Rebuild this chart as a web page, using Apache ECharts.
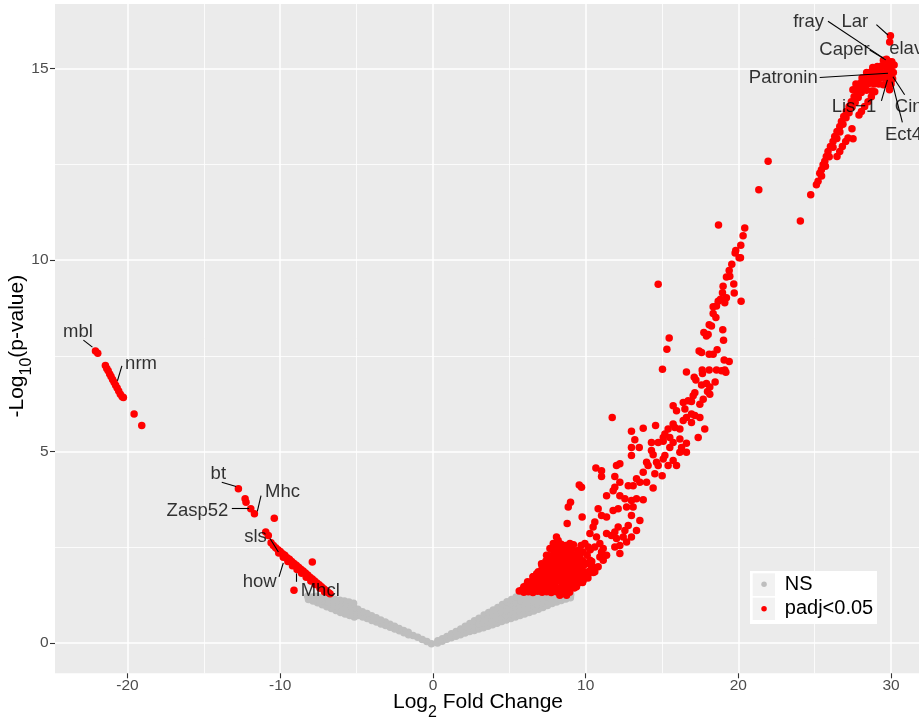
<!DOCTYPE html>
<html><head><meta charset="utf-8">
<script src="https://cdn.jsdelivr.net/npm/echarts@6/dist/echarts.min.js"></script>
<style>html,body{margin:0;padding:0;background:#fff}#c{width:919px;height:719px}</style>
</head><body><div id="c"></div><script>
// ---- not significant (grey) points, left arm of the V ----
const nsLeft = [
[-0.1,-0.02],[-0.4,0.04],[-0.7,0.09],[-1.0,0.15],[-1.3,0.2],
[-1.6,0.22],[-1.62,0.28],[-1.9,0.27],[-1.92,0.33],[-2.2,0.32],[-2.22,0.38],
[-2.5,0.37],[-2.52,0.44],[-2.8,0.41],[-2.82,0.49],[-3.1,0.46],[-3.12,0.55],
[-3.4,0.5],[-3.42,0.6],[-3.7,0.55],[-3.72,0.66],[-4.0,0.59],[-4.02,0.71],
[-4.3,0.64],[-4.32,0.77],[-4.6,0.68],[-4.62,0.82],[-4.9,0.72],[-4.92,0.88],
[-5.15,0.68],[-5.15,0.8],[-5.17,0.92],[-5.2,1.04],
[-5.45,0.72],[-5.45,0.84],[-5.47,0.96],[-5.5,1.07],
[-5.75,0.76],[-5.75,0.88],[-5.77,1.0],[-5.8,1.1],
[-6.05,0.8],[-6.05,0.92],[-6.07,1.04],[-6.1,1.12],
[-6.35,0.85],[-6.35,0.97],[-6.37,1.08],[-6.4,1.14],
[-6.65,0.9],[-6.65,1.02],[-6.7,1.14],
[-6.95,0.95],[-6.95,1.07],[-7.0,1.17],
[-7.25,1.0],[-7.25,1.1],[-7.3,1.19],
[-7.55,1.05],[-7.55,1.15],[-7.6,1.22],
[-7.85,1.1],[-7.9,1.2],[-8.15,1.14],[-8.2,1.22]
];
// ---- not significant (grey) points, right arm of the V ----
const nsRight = [
[0.3,0.0],[0.32,0.06],[0.6,0.05],[0.62,0.11],[0.9,0.1],[0.92,0.17],
[1.2,0.14],[1.22,0.24],[1.5,0.18],[1.52,0.3],[1.8,0.22],[1.82,0.37],
[2.1,0.26],[2.1,0.36],[2.12,0.44],[2.4,0.3],[2.4,0.41],[2.42,0.51],
[2.7,0.33],[2.7,0.45],[2.72,0.58],[3.0,0.37],[3.0,0.5],[3.02,0.65],
[3.3,0.4],[3.3,0.52],[3.32,0.63],[3.35,0.73],
[3.6,0.44],[3.6,0.56],[3.62,0.68],[3.65,0.8],
[3.9,0.48],[3.9,0.6],[3.92,0.73],[3.95,0.86],
[4.2,0.52],[4.2,0.64],[4.22,0.77],[4.25,0.93],
[4.5,0.56],[4.5,0.68],[4.52,0.81],[4.55,0.94],[4.55,1.01],
[4.8,0.6],[4.8,0.72],[4.82,0.85],[4.85,0.98],[4.85,1.08],
[5.1,0.64],[5.1,0.76],[5.12,0.89],[5.15,1.02],[5.15,1.14],
[5.4,0.68],[5.4,0.8],[5.42,0.93],[5.45,1.06],[5.45,1.2],
[5.7,0.72],[5.7,0.84],[5.72,0.97],[5.75,1.1],[5.75,1.22],
[6.0,0.76],[6.0,0.88],[6.02,1.01],[6.05,1.14],[6.05,1.24],
[6.3,0.8],[6.3,0.92],[6.32,1.05],[6.35,1.17],
[6.6,0.84],[6.6,0.96],[6.62,1.08],[6.65,1.2],
[6.9,0.88],[6.9,1.0],[6.92,1.12],[6.95,1.22],
[7.2,0.93],[7.2,1.05],[7.22,1.16],[7.25,1.25],
[7.5,0.98],[7.5,1.09],[7.52,1.2],[7.8,1.03],[7.8,1.13],[7.82,1.23],
[8.1,1.07],[8.1,1.17],[8.12,1.26],[8.4,1.11],[8.4,1.2],[8.42,1.28],
[8.7,1.15],[8.72,1.24],[9.0,1.18],[9.02,1.26]
];
// ---- significant (red) points, negative fold change ----
const sigLeft = [
[-22.1,7.63],[-21.95,7.57],
[-21.45,7.25],[-21.36,7.17],[-21.27,7.11],[-21.17,7.03],[-21.08,6.96],[-20.98,6.88],[-20.88,6.81],
[-20.78,6.73],[-20.68,6.66],[-20.58,6.58],[-20.47,6.5],[-20.35,6.43],[-20.27,6.41],
[-19.57,5.98],[-19.07,5.68],
[-12.74,4.03],[-12.3,3.77],[-12.24,3.68],[-11.93,3.51],[-11.69,3.38],[-10.39,3.26],[-10.95,2.9],[-10.78,2.81],
[-10.6,2.62],[-10.45,2.55],[-10.3,2.49],[-10.15,2.44],[-10.0,2.39],[-9.85,2.33],[-9.7,2.29],[-9.55,2.23],
[-9.4,2.19],[-9.25,2.13],[-9.1,2.08],[-8.95,2.03],[-8.8,1.98],[-8.65,1.93],[-8.5,1.88],[-8.35,1.83],
[-8.2,1.78],[-8.05,1.72],[-7.9,1.67],[-7.75,1.62],[-7.6,1.57],[-7.45,1.52],[-7.3,1.47],[-7.15,1.42],
[-7.0,1.37],[-6.85,1.32],[-6.74,1.29],
[-10.1,2.35],[-9.8,2.24],[-9.5,2.13],[-9.2,2.02],[-8.9,1.92],[-8.6,1.82],[-8.3,1.72],[-8.0,1.62],
[-7.7,1.53],[-7.4,1.43],[-7.1,1.34],
[-7.9,2.12],[-9.1,1.38]
];
// ---- significant (red) points, positive fold change: lower cloud ----
const sigRightLow = [
[5.65,1.36],[5.95,1.33],[6.25,1.34],[6.55,1.32],[6.85,1.35],[7.15,1.33],[7.45,1.34],[7.75,1.32],[8.05,1.35],[8.35,1.33],[8.65,1.31],[8.95,1.33],
[5.95,1.47],[6.25,1.45],[6.55,1.48],[6.85,1.46],[7.15,1.47],[7.45,1.45],[7.75,1.48],[8.05,1.46],[8.35,1.45],[8.65,1.47],[8.95,1.45],[9.25,1.44],
[6.2,1.6],[6.5,1.58],[6.8,1.61],[7.1,1.59],[7.4,1.62],[7.7,1.58],[8.0,1.6],[8.3,1.62],[8.6,1.59],[8.9,1.61],[9.2,1.58],[9.5,1.56],[9.8,1.58],
[6.55,1.73],[6.85,1.71],[7.15,1.74],[7.45,1.72],[7.75,1.75],[8.05,1.71],[8.35,1.74],[8.65,1.72],[8.95,1.75],[9.25,1.71],[9.55,1.73],[9.85,1.72],[10.15,1.7],
[6.9,1.86],[7.2,1.88],[7.5,1.85],[7.8,1.89],[8.1,1.86],[8.4,1.88],[8.7,1.85],[9.0,1.89],[9.3,1.86],[9.6,1.88],[9.9,1.85],[10.2,1.87],[10.5,1.84],
[7.15,2.0],[7.45,2.02],[7.75,1.99],[8.05,2.01],[8.35,1.98],[8.65,2.02],[8.95,1.99],[9.25,2.01],[9.55,1.98],[9.85,2.02],[10.45,2.0],
[7.4,2.14],[7.7,2.12],[8.0,2.15],[8.3,2.13],[8.6,2.15],[8.9,2.12],[9.2,2.14],[9.5,2.13],[9.8,2.15],[10.4,2.13],
[7.65,2.28],[7.95,2.3],[8.25,2.27],[8.55,2.29],[8.85,2.26],[9.15,2.3],[9.45,2.27],[10.1,2.29],
[7.9,2.42],[8.2,2.44],[8.5,2.41],[8.8,2.43],[9.1,2.45],[9.5,2.42],[10.3,2.44],
[8.1,2.56],[8.4,2.58],[8.7,2.55],[9.2,2.57],[9.7,2.55]
];
// ---- significant (red) points, positive fold change: middle cloud ----
const sigRightMid = [
[15.73,6.2],[16.39,6.28],[16.93,6.31],[17.48,6.24],[16.5,6.11],[15.95,6.07],[16.93,5.98],[16.6,5.89],[17.15,5.94],[17.48,5.89],
[16.39,5.81],[16.93,5.76],[15.73,5.72],[15.4,5.59],[15.84,5.63],[16.17,5.59],[15.19,5.46],[15.08,5.37],[17.8,5.59],[17.37,5.37],
[13.0,5.53],[13.77,5.61],[14.58,5.68],[13.22,5.31],[13.0,5.11],[13.51,5.11],[13.0,4.9],[14.31,5.24],[14.75,5.24],[15.08,5.27],
[15.51,5.37],[15.73,5.24],[16.17,5.33],[16.6,5.22],[15.51,5.11],[14.31,5.03],[14.42,4.92],[16.17,4.98],[16.6,4.98],[16.28,5.11],
[15.19,4.9],[15.08,4.81],[14.64,4.72],[13.99,4.72],[15.73,4.77],[15.4,4.64],[15.95,4.64],
[12.24,4.68],[12.02,4.64],[10.67,4.57],[11.04,4.5],[11.04,4.35],[14.09,4.64],[14.75,4.64],[14.53,4.42],[15.01,4.37],
[13.77,4.46],[13.33,4.29],[13.55,4.2],[12.79,4.11],[13.99,4.2],[14.42,4.05],[13.11,4.11],[12.24,4.2],[11.91,4.35],[11.91,4.07],
[11.8,3.98],[11.37,3.85],[12.24,3.85],[12.57,3.77],[13.0,3.72],[13.33,3.77],[13.77,3.74],
[9.58,4.13],[9.73,4.07],[9.01,3.68],[8.86,3.55],[9.77,3.29],[8.79,3.12],[10.82,3.51],[11.04,3.33],[11.37,3.29],[11.8,3.46],
[12.13,3.51],[12.68,3.55],[13.11,3.55],[13.0,3.33],[13.55,3.2],[13.33,2.94],[12.79,3.07],[12.57,2.94],[12.13,3.03],[11.91,2.9],
[11.69,2.81],[11.37,2.86],[12.02,2.73],[12.46,2.77],[13.0,2.77],[11.91,2.51],[12.24,2.55],[12.68,2.64],[12.24,2.34],
[10.6,3.16],[10.49,3.03],[10.28,2.86],[10.71,2.77],[10.93,2.6],[11.15,2.47],[10.6,2.51],[10.17,2.51],[9.95,2.6],[9.84,2.38],
[9.62,2.25],[9.29,2.29],[8.97,2.6],[8.75,2.42],[8.64,2.16],[8.31,2.29],[8.09,2.77],[8.2,2.68],[7.88,2.6],[7.66,2.47],
[7.44,2.29],[7.77,2.25],[7.11,2.07],[7.33,1.9],[6.79,1.81],[7.0,1.73],[6.57,1.73],[6.46,1.6],[6.13,1.51],[5.8,1.38],
[7.0,1.51],[7.44,1.6],[7.88,1.51],[8.09,1.99],[8.53,1.81],[8.86,1.73],[8.97,2.07],[9.19,1.9],[9.62,1.99],[10.06,2.07],
[10.28,2.16],[10.93,2.25],[11.15,2.16],[10.82,1.99],[10.6,1.86],[10.17,1.81],[9.84,1.64],[9.4,1.47],[8.97,1.51],[8.53,1.38],
[8.09,1.34],[7.66,1.38],[7.22,1.38],[6.68,1.38],[8.75,1.25],[8.31,1.25],[10.06,1.73],[10.39,1.99],[11.04,2.38],[11.37,2.29]
];
// ---- significant (red) points, positive fold change: upper arm ----
const sigRightHigh = [
[21.34,11.84],[18.7,10.92],[20.42,10.84],[20.31,10.64],[20.16,10.39],[19.83,10.25],[19.79,10.19],[20.05,10.06],[20.14,10.06],
[19.57,9.89],[19.4,9.73],[19.22,9.56],[19.44,9.58],[19.7,9.38],[19.0,9.32],[18.96,9.15],[19.22,9.02],[19.73,9.14],
[18.68,8.93],[18.83,8.98],[18.57,8.8],[18.35,8.78],[19.11,8.89],[20.18,8.93],[18.35,8.61],[18.53,8.5],[14.75,9.37],
[18.09,8.31],[18.24,8.28],[18.98,8.18],[17.74,8.11],[17.91,8.02],[18.02,8.06],[19.03,7.91],[15.47,7.97],[15.32,7.67],
[17.43,7.63],[17.59,7.59],[18.09,7.54],[18.35,7.54],[18.61,7.66],[19.07,7.39],[19.4,7.35],[15.03,7.15],[16.6,7.08],
[17.63,7.13],[17.65,7.04],[18.09,7.13],[18.57,7.13],[18.9,7.11],[19.11,7.13],[19.18,7.07],[17.11,6.94],[17.22,6.87],
[18.48,6.82],[17.59,6.74],[17.91,6.78],[18.13,6.69],[17.98,6.57],[18.13,6.5],[17.15,6.54],[17.04,6.46],[16.71,6.33],[17.7,6.37],
[11.74,5.89],
[21.95,12.58],[24.06,11.02],[24.74,11.71],[25.11,11.97],[25.22,12.06],
[25.33,12.27],[25.44,12.36],[25.55,12.49],[25.66,12.58],[25.76,12.71],[25.87,12.84],[26.03,12.97],[26.2,13.1],[26.31,13.23],
[26.46,13.36],[26.64,13.49],[26.75,13.62],[26.9,13.75],[27.07,13.88],[27.25,14.01],[27.4,14.14],[27.58,14.27],[27.77,14.4],
[27.95,14.53],[28.16,14.62],
[25.45,12.2],[25.7,12.45],[25.95,12.7],[26.2,12.95],[26.45,13.18],[26.65,13.35],[26.85,13.55],[27.05,13.72],[27.25,13.85],
[27.45,14.0],[27.65,14.12],[27.85,14.25],[28.05,14.38],[28.25,14.5],[28.45,14.6],
[26.46,12.71],[26.64,12.84],[26.81,12.97],[27.03,13.1],[27.18,13.19],[27.51,13.17],[27.44,13.43],
[27.9,13.79],[28.06,13.88],[28.27,14.01],[28.49,14.14],[28.71,14.27],[28.93,14.4],
[29.5,15.22],[29.8,15.2],[30.05,15.18],[29.7,15.25],
[28.8,15.03],[29.1,15.06],[29.4,15.08],[29.7,15.05],[30.0,15.04],[30.2,15.1],
[28.4,14.9],[28.7,14.92],[29.0,14.9],[29.3,14.92],[29.6,14.9],[29.9,14.9],[30.15,14.9],
[28.1,14.76],[28.4,14.76],[28.7,14.77],[29.0,14.75],[29.3,14.77],[29.6,14.76],[29.9,14.75],[30.1,14.74],
[27.7,14.6],[28.0,14.62],[28.3,14.6],[28.6,14.62],[28.9,14.6],[29.2,14.6],[29.5,14.58],[29.8,14.6],[30.0,14.6],
[27.5,14.45],[27.8,14.45],[28.1,14.46],[28.4,14.44],[28.75,14.42],[29.9,14.45],
[29.96,15.86],[29.91,15.7]
];
// ---- gene labels (anchor point in data units, text alignment) and leader segments ----
const geneNames = ['fray','Lar','elav','Caper','Patronin','Lis\u22121','Cin','Ect4','mbl','nrm','bt','Mhc','Zasp52','sls','how','Mhcl'];
const geneX = [25.61,28.5,29.88,28.6,25.2,29.04,30.25,29.6,-22.27,-20.16,-13.55,-11.0,-13.4,-10.88,-10.23,-8.66];
const geneY = [16.21,16.21,15.53,15.49,14.77,14.01,14.01,13.27,8.13,7.29,4.42,3.94,3.46,2.77,1.6,1.35];
const geneAlign = ['right','right','left','right','right','right','left','left','right','left','right','left','right','right','right','left'];
const leaders = [
[25.87,16.24,29.52,15.27],[29.04,16.15,29.8,15.88],[28.6,15.49,29.65,15.23],[25.33,14.77,29.8,14.88],
[29.37,14.16,29.76,14.71],[30.89,14.32,30.12,14.79],[30.74,13.6,30.06,14.66],
[-22.89,7.91,-22.3,7.73],[-20.37,7.24,-20.66,6.85],[-13.83,4.2,-12.89,4.09],[-11.26,3.85,-11.5,3.44],
[-13.17,3.51,-12.04,3.51],[-10.67,2.73,-10.12,2.38],[-10.08,1.73,-9.8,2.09],[-8.92,1.82,-8.92,1.6]
];
const xTicks = [-20,-10,0,10,20,30];
const yTicks = [0,5,10,15];
const legendNames = ['NS','padj<0.05'];

const FONT = '"Liberation Sans", Arial, Helvetica, sans-serif';
const chart = echarts.init(document.getElementById('c'), null, {renderer:'canvas'});
const titleRich = {
  a:{fontSize:21, fontFamily:FONT, color:'#000', lineHeight:36, verticalAlign:'middle'},
  b:{fontSize:16, fontFamily:FONT, color:'#000', lineHeight:36, verticalAlign:'bottom'}
};
const option = {
  animation:false,
  backgroundColor:'#ffffff',
  grid:{left:55, right:0, top:4, bottom:45.7, show:true, backgroundColor:'#EBEBEB', borderWidth:0, containLabel:false, outerBoundsMode:'none'},
  xAxis:{
    type:'value', min:-24.75, max:31.83, splitNumber:5, minInterval:10, maxInterval:10,
    axisLine:{show:false, onZero:false},
    axisTick:{show:true, length:5, customValues:xTicks, lineStyle:{color:'#333333', width:1.1}},
    axisLabel:{customValues:xTicks, color:'#4D4D4D', fontSize:15.5, fontFamily:FONT, margin:4},
    splitLine:{show:true, lineStyle:{color:'#ffffff', width:1.5}},
    minorTick:{show:false, splitNumber:2},
    minorSplitLine:{show:true, lineStyle:{color:'#ffffff', width:0.8}},
    name:'{a|Log}{b|2}{a| Fold Change}', nameLocation:'middle', nameGap:11, nameMoveOverlap:false,
    nameTextStyle:{padding:[0,18,0,0], rich:titleRich}
  },
  yAxis:{
    type:'value', min:-0.79, max:16.69, splitNumber:4, minInterval:5, maxInterval:5,
    axisLine:{show:false, onZero:false},
    axisTick:{show:true, length:5, customValues:yTicks, lineStyle:{color:'#333333', width:1.1}},
    axisLabel:{customValues:yTicks, color:'#4D4D4D', fontSize:15.5, fontFamily:FONT, margin:6.5},
    splitLine:{show:true, lineStyle:{color:'#ffffff', width:1.5}},
    minorTick:{show:false, splitNumber:2},
    minorSplitLine:{show:true, lineStyle:{color:'#ffffff', width:0.8}},
    name:'{a|-Log}{b|10}{a|(p-value)}', nameLocation:'middle', nameGap:20, nameRotate:90, nameMoveOverlap:false,
    nameTextStyle:{padding:[0,15,0,0], rich:titleRich}
  },
  legend:{
    data:legendNames, orient:'vertical', left:761.3, top:572, itemWidth:5.5, itemHeight:5.5, itemGap:0,
    icon:'circle', padding:0, selectedMode:false, z:10,
    textStyle:{fontSize:20, fontFamily:FONT, color:'#000', lineHeight:24.5, padding:[0,0,0,13]}
  },
  graphic:[
    {type:'rect', z:5, shape:{x:750, y:571, width:127, height:53}, style:{fill:'#ffffff'}},
    {type:'rect', z:6, shape:{x:752.7, y:573.3, width:22.3, height:22.7}, style:{fill:'#F2F2F2'}},
    {type:'rect', z:6, shape:{x:752.7, y:597.7, width:22.3, height:22.3}, style:{fill:'#F2F2F2'}}
  ],
  series:[
    {name:legendNames[0], type:'scatter', data:nsLeft.concat(nsRight), symbolSize:7.5, silent:true,
     itemStyle:{color:'#BEBEBE', opacity:1}, z:2},
    {name:legendNames[1], type:'scatter', data:sigLeft.concat(sigRightLow, sigRightMid, sigRightHigh), symbolSize:7.5, silent:true,
     itemStyle:{color:'#FF0000', opacity:1}, z:3},
    {name:'genes', type:'scatter', symbolSize:0, silent:true, z:4,
     data:geneNames.map((n,i)=>({name:n, value:[geneX[i],geneY[i]], label:{align:geneAlign[i]}})),
     label:{show:true, position:[0,0], verticalAlign:'middle', formatter:'{b}', color:'#000', fontSize:18.5, fontFamily:FONT},
     markLine:{silent:true, symbol:['none','none'], label:{show:false}, animation:false,
       lineStyle:{color:'#000', width:1.1, type:'solid', opacity:1},
       emphasis:{disabled:true},
       data:leaders.map(l=>[{coord:[l[0],l[1]]},{coord:[l[2],l[3]]}])}
    }
  ]
};
chart.setOption(option);
</script></body></html>
